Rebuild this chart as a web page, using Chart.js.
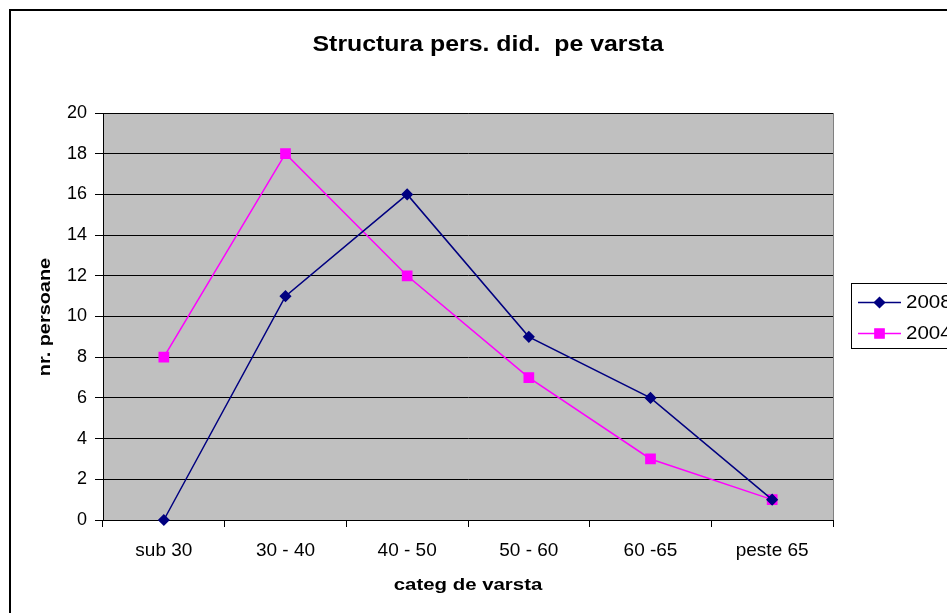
<!DOCTYPE html>
<html>
<head>
<meta charset="utf-8">
<script src="https://cdn.jsdelivr.net/npm/chart.js@4/dist/chart.umd.min.js"></script>
<style>
html,body{margin:0;padding:0;background:#fff;}
canvas{display:block;}
</style>
</head>
<body>
<canvas id="c" width="947" height="613"></canvas>
<script>
const categories = ['sub 30', '30 - 40', '40 - 50', '50 - 60', '60 -65', 'peste 65'];
const series2008 = [0, 11, 16, 9, 6, 1];
const series2004 = [8, 18, 12, 7, 3, 1];
const seriesNames = ['2008', '2004'];
const chartTitle = 'Structura pers. did.  pe varsta';
const xTitle = 'categ de varsta';
const yTitle = 'nr. persoane';
const yMin = 0, yMax = 20, yStep = 2;

const FONT = '"Liberation Sans", Arial, sans-serif';

function scaledText(ctx, text, x, y, font, sx, rot, align) {
  ctx.save();
  ctx.translate(x, y);
  if (rot) ctx.rotate(rot);
  ctx.scale(sx, 1);
  ctx.font = font;
  ctx.fillStyle = '#000';
  ctx.textAlign = align || 'center';
  ctx.textBaseline = 'middle';
  ctx.fillText(text, 0, 0);
  ctx.restore();
}

const decor = {
  id: 'decor',
  beforeDraw(chart) {
    const ctx = chart.ctx;
    const a = chart.chartArea;
    ctx.save();
    ctx.fillStyle = '#fff';
    ctx.fillRect(0, 0, chart.width, chart.height);
    ctx.fillStyle = '#C0C0C0';
    ctx.fillRect(a.left, a.top, a.right - a.left, a.bottom - a.top);
    ctx.strokeStyle = '#808080';
    ctx.lineWidth = 1;
    ctx.strokeRect(Math.round(a.left) + 0.5, Math.round(a.top) + 0.5, Math.round(a.right - a.left), Math.round(a.bottom - a.top));
    ctx.restore();
  },
  afterDraw(chart) {
    const ctx = chart.ctx;
    const a = chart.chartArea;
    ctx.save();
    // outer frame
    ctx.strokeStyle = '#000';
    ctx.lineWidth = 2;
    ctx.strokeRect(10, 10, chart.width + 20, chart.height + 20);
    // titles
    scaledText(ctx, chartTitle, 488, 45, 'bold 22px ' + FONT, 1.13, 0);
    scaledText(ctx, xTitle, (a.left + a.right) / 2, 585, 'bold 17px ' + FONT, 1.2, 0);
    scaledText(ctx, yTitle, 45, (a.top + a.bottom) / 2 + 0.5, 'bold 17px ' + FONT, 1.17, -Math.PI / 2);
    // legend
    ctx.fillStyle = '#fff';
    ctx.fillRect(851, 283, 120, 65);
    ctx.strokeStyle = '#000';
    ctx.lineWidth = 1;
    ctx.strokeRect(851.5, 283.5, 120, 65);
    const rows = [302, 333];
    chart.data.datasets.forEach((ds, i) => {
      const y = rows[i] + 0.5;
      ctx.strokeStyle = ds.borderColor;
      ctx.lineWidth = ds.borderWidth;
      ctx.beginPath();
      ctx.moveTo(858, y);
      ctx.lineTo(901, y);
      ctx.stroke();
      ctx.fillStyle = ds.pointBackgroundColor;
      ctx.strokeStyle = ds.pointBorderColor;
      Chart.helpers.drawPoint(ctx, {
        pointStyle: ds.pointStyle, radius: ds.pointRadius, borderWidth: 1, rotation: 0
      }, 879.5, y);
      scaledText(ctx, ds.label, 906, y + 1, '18px ' + FONT, 1.14, 0, 'left');
    });
    ctx.restore();
  }
};

new Chart(document.getElementById('c'), {
  type: 'line',
  data: {
    labels: categories,
    datasets: [
      {
        label: seriesNames[0], data: series2008,
        borderColor: '#000080', backgroundColor: '#000080',
        pointBackgroundColor: '#000080', pointBorderColor: '#000080',
        pointStyle: 'rectRot', pointRadius: 5, borderWidth: 1.5, tension: 0, fill: false, clip: false
      },
      {
        label: seriesNames[1], data: series2004,
        borderColor: '#FF00FF', backgroundColor: '#FF00FF',
        pointBackgroundColor: '#FF00FF', pointBorderColor: '#FF00FF',
        pointStyle: 'rect', pointRadius: 6.5, borderWidth: 1.5, tension: 0, fill: false, clip: false
      }
    ]
  },
  options: {
    responsive: false,
    animation: false,
    devicePixelRatio: 1,
    layout: { padding: { left: 0, top: 113, right: 114, bottom: 0 } },
    plugins: { legend: { display: false }, title: { display: false }, tooltip: { enabled: false } },
    scales: {
      x: {
        type: 'category',
        offset: true,
        afterFit(s) { s.height = 93; },
        grid: { offset: true, drawOnChartArea: false, drawTicks: true, tickLength: 7, color: '#000', lineWidth: 1 },
        border: { display: true, color: '#000', width: 1 },
        ticks: { color: '#000', font: { family: FONT, size: 19 }, padding: 12, maxRotation: 0, autoSkip: false }
      },
      y: {
        min: yMin, max: yMax,
        afterFit(s) { s.width = 103; },
        grid: { drawOnChartArea: true, drawTicks: true, tickLength: 8, color: '#000', lineWidth: 1 },
        border: { display: true, color: '#000', width: 1 },
        ticks: { stepSize: yStep, color: '#000', font: { family: FONT, size: 18 }, padding: 8 }
      }
    }
  },
  plugins: [decor]
});
</script>
</body>
</html>
